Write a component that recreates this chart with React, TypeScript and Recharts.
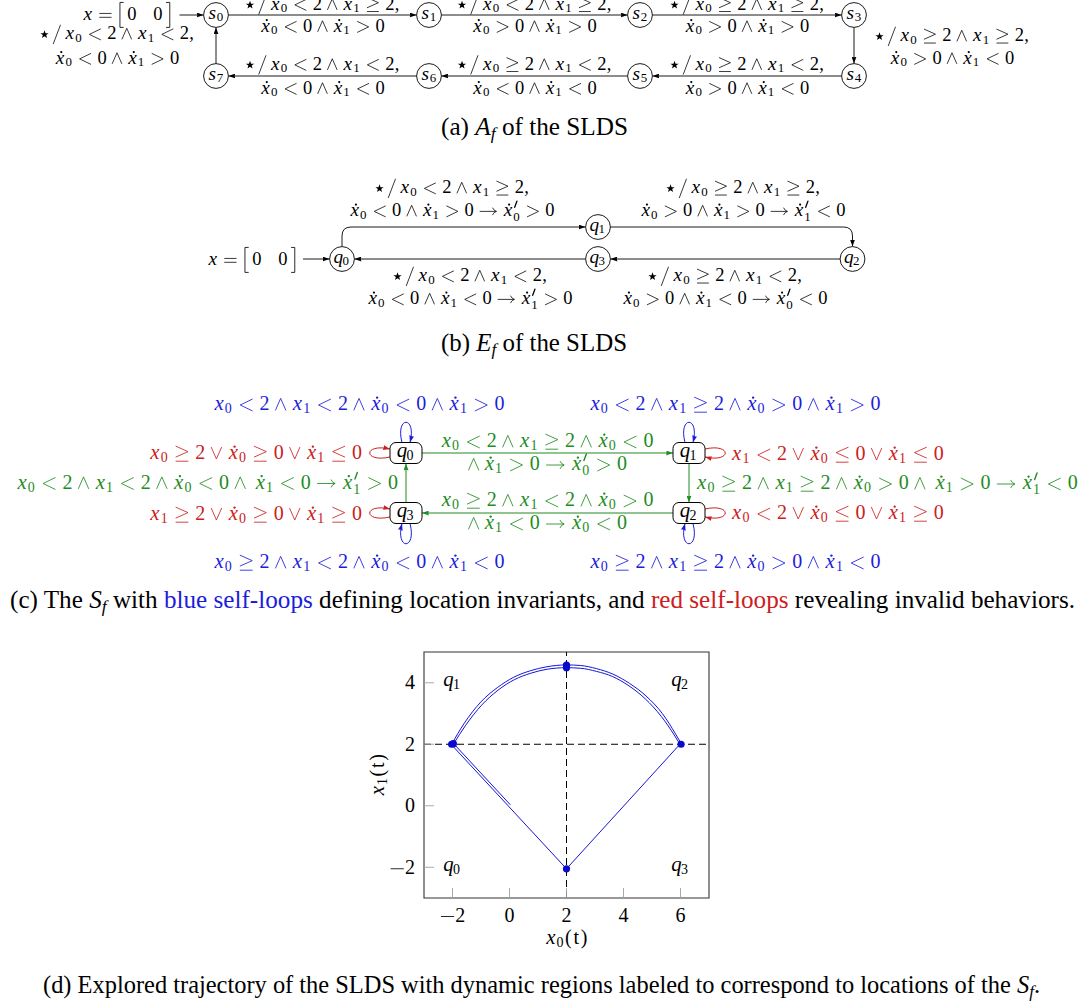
import React from 'react';
import { ComposedChart, XAxis, YAxis, Line, Scatter, ReferenceLine, ReferenceArea } from 'recharts';

// ---------------- data (plot d) ----------------
const xTicks = [-2, 0, 2, 4, 6];
const yTicks = [-2, 0, 2, 4];
const xDomain = [-3, 7];
const yDomain = [-3, 5];
const x0Threshold = 2;
const x1Threshold = 2;

const startSegment = [
  { x: 0.03, y: 0.03 },
  { x: -1.97, y: 2.03 },
];
const arcInner = [
  { x: -1.97, y: 2.0 }, { x: -1.55, y: 2.6 }, { x: -0.98, y: 3.27 }, { x: -0.4, y: 3.76 },
  { x: 0.17, y: 4.1 }, { x: 0.75, y: 4.31 }, { x: 1.32, y: 4.44 }, { x: 2.0, y: 4.49 },
  { x: 2.5, y: 4.47 }, { x: 3.05, y: 4.37 }, { x: 3.62, y: 4.2 }, { x: 4.19, y: 3.9 },
  { x: 4.76, y: 3.48 }, { x: 5.33, y: 2.9 }, { x: 5.78, y: 2.3 }, { x: 5.98, y: 2.0 },
];
const returnSegment = [
  { x: 5.98, y: 2.0 },
  { x: 2.0, y: -2.05 },
  { x: -2.03, y: 1.98 },
];
const arcOuter = [
  { x: -2.03, y: 2.0 }, { x: -1.59, y: 2.68 }, { x: -1.01, y: 3.37 }, { x: -0.43, y: 3.84 },
  { x: 0.15, y: 4.18 }, { x: 0.73, y: 4.39 }, { x: 1.31, y: 4.52 }, { x: 2.0, y: 4.58 },
  { x: 2.5, y: 4.56 }, { x: 3.05, y: 4.46 }, { x: 3.63, y: 4.28 }, { x: 4.21, y: 3.98 },
  { x: 4.79, y: 3.57 }, { x: 5.37, y: 2.99 }, { x: 5.83, y: 2.33 }, { x: 6.04, y: 2.0 },
];
const switchPoints = [
  { x: -2.03, y: 2.0 }, { x: -1.97, y: 2.02 }, { x: 2.0, y: 4.57 }, { x: 2.0, y: 4.49 },
  { x: 6.02, y: 2.0 }, { x: 2.0, y: -2.05 },
];
const regionLabels = [
  { x: -2, y: 4, label: 'q_1' },
  { x: 6, y: 4, label: 'q_2' },
  { x: -2, y: -2, label: 'q_0' },
  { x: 6, y: -2, label: 'q_3' },
];

// ---------------- math text layout ----------------
const FONT = "'Liberation Serif','Times New Roman','DejaVu Serif',serif";
const IT_W: Record<string, number> = { x: 0.572, q: 0.46, s: 0.469, f: 0.49 };
const REL_W: Record<string, number> = { '<': 0.778, '>': 0.778, '≤': 0.778, '≥': 0.778, '=': 0.778, '→': 1.0 };

function starPath(cx: number, cy: number, R: number, r: number) {
  let d = '';
  for (let k = 0; k < 10; k++) {
    const a = -Math.PI / 2 + (k * Math.PI) / 5;
    const rr = k % 2 === 0 ? R : r;
    d += (k === 0 ? 'M' : 'L') + (cx + rr * Math.cos(a)).toFixed(3) + ',' + (cy + rr * Math.sin(a)).toFixed(3);
  }
  return d + 'Z';
}
function dotPath(cx: number, cy: number, r: number) {
  return `M${cx - r},${cy} a${r},${r} 0 1,0 ${2 * r},0 a${r},${r} 0 1,0 ${-2 * r},0`;
}

function relPath(c: string, x: number) {
  switch (c) {
    case '<': return `M${x + 0.69},-0.54 L${x + 0.09},-0.25 L${x + 0.69},0.04`;
    case '>': return `M${x + 0.09},-0.54 L${x + 0.69},-0.25 L${x + 0.09},0.04`;
    case '≤': return `M${x + 0.69},-0.636 L${x + 0.09},-0.368 L${x + 0.69},-0.1 M${x + 0.09},0.11 L${x + 0.69},0.11`;
    case '≥': return `M${x + 0.09},-0.636 L${x + 0.69},-0.368 L${x + 0.09},-0.1 M${x + 0.09},0.11 L${x + 0.69},0.11`;
    case '=': return `M${x + 0.08},-0.355 L${x + 0.7},-0.355 M${x + 0.08},-0.145 L${x + 0.7},-0.145`;
    case '→': return `M${x + 0.06},-0.25 L${x + 0.92},-0.25 M${x + 0.74},-0.43 Q${x + 0.8},-0.29 ${x + 0.94},-0.25 Q${x + 0.8},-0.21 ${x + 0.74},-0.07`;
  }
  return '';
}

function layoutMath(src: string) {
  const items: any[] = [];
  let cur = 0;
  let prev: string | null = null;
  let primeAt: number | null = null;
  const place = (type: string, w: number) => {
    let t = type;
    if (t === 'bin' && (prev === null || prev === 'bin' || prev === 'rel' || prev === 'open' || prev === 'punct')) t = 'ord';
    let sp = 0;
    if (prev !== null) {
      if (t === 'rel' || prev === 'rel') sp = t === 'rel' && prev === 'rel' ? 0 : 0.278;
      else if (t === 'bin' || prev === 'bin') sp = 0.222;
      else if (prev === 'punct') sp = 0.167;
    }
    cur += sp;
    const x0 = cur;
    cur += w;
    prev = t;
    primeAt = null;
    return x0;
  };
  const chars = Array.from(src);
  for (let i = 0; i < chars.length; i++) {
    const c = chars[i];
    if (c === ' ') continue;
    if (c === '`') { cur += 0.167; continue; }
    if (c === '~') { cur += 0.9; continue; }
    if (IT_W[c] !== undefined) {
      const w = IT_W[c];
      const x0 = place('ord', w);
      items.push({ k: 't', ch: c, x: x0, w, y: 0, s: 1.04, it: true });
    } else if (c === 'ẋ') {
      const x0 = place('ord', 0.572);
      items.push({ k: 't', ch: 'x', x: x0, w: 0.572, y: 0, s: 1.04, it: true });
      items.push({ k: 'p', d: dotPath(x0 + 0.35, -0.62, 0.06), fill: true });
    } else if (/[0-9]/.test(c)) {
      const x0 = place('ord', 0.5);
      items.push({ k: 't', ch: c, x: x0, w: 0.5, y: 0, s: 1, it: false });
    } else if (c === 'T') {
      const x0 = place('ord', 0.389);
      items.push({ k: 't', ch: 't', x: x0, w: 0.389, y: 0, s: 1, it: false });
    } else if (c === '(' || c === ')') {
      const x0 = place(c === '(' ? 'open' : 'close', 0.389);
      items.push({ k: 't', ch: c, x: x0, w: 0.389, y: 0, s: 1, it: false });
    } else if (c === ',') {
      const x0 = place('punct', 0.278);
      items.push({ k: 't', ch: ',', x: x0, w: 0.278, y: 0, s: 1, it: false });
    } else if (c === '[') {
      const x0 = place('open', 0.35);
      items.push({ k: 'p', d: `M${x0 + 0.3},-0.95 L${x0 + 0.12},-0.95 L${x0 + 0.12},0.4 L${x0 + 0.3},0.4`, sw: 0.045 });
    } else if (c === ']') {
      const x0 = place('close', 0.35);
      items.push({ k: 'p', d: `M${x0 + 0.05},-0.95 L${x0 + 0.23},-0.95 L${x0 + 0.23},0.4 L${x0 + 0.05},0.4`, sw: 0.045 });
    } else if (REL_W[c] !== undefined) {
      const x0 = place('rel', REL_W[c]);
      items.push({ k: 'p', d: relPath(c, x0) });
    } else if (c === '∧' || c === '∨') {
      const x0 = place('bin', 0.667);
      items.push({
        k: 'p',
        d: c === '∧'
          ? `M${x0 + 0.08},0 L${x0 + 0.333},-0.58 L${x0 + 0.587},0`
          : `M${x0 + 0.08},-0.58 L${x0 + 0.333},0 L${x0 + 0.587},-0.58`,
      });
    } else if (c === '-') {
      const x0 = place('bin', 0.778);
      items.push({ k: 'p', d: `M${x0 + 0.08},-0.25 L${x0 + 0.7},-0.25` });
    } else if (c === '⋆') {
      const x0 = place('bin', 0.5);
      items.push({ k: 'p', d: starPath(x0 + 0.25, -0.24, 0.235, 0.095), fill: true });
    } else if (c === '/') {
      const x0 = place('ord', 0.5);
      items.push({ k: 'p', d: `M${x0 + 0.44},-0.75 L${x0 + 0.06},0.25` });
    } else if (c === "'") {
      const px = cur;
      items.push({ k: 'p', d: `M${px + 0.2},-0.8 L${px + 0.08},-0.47`, sw: 0.07 });
      primeAt = px;
      cur = px + 0.24;
    } else if (c === '_') {
      const c2 = chars[++i];
      const sx = primeAt !== null ? primeAt : cur;
      const dy = primeAt !== null ? 0.25 : 0.15;
      const w = 0.35;
      items.push({ k: 't', ch: c2, x: sx, w, y: dy, s: 0.7, it: /[a-z]/.test(c2) });
      cur = Math.max(cur, sx + w + 0.05);
      primeAt = null;
    }
  }
  return { items, width: cur };
}

function MathText({ x, y, src, size, anchor = 'middle', color = '#000', rotate }: any) {
  const L = layoutMath(src);
  const ox = anchor === 'middle' ? x - (L.width * size) / 2 : anchor === 'end' ? x - L.width * size : x;
  return (
    <g transform={rotate ? `rotate(${rotate} ${x} ${y})` : undefined}>
      {L.items.map((it: any, i: number) =>
        it.k === 't' ? (
          <text
            key={i}
            x={ox + (it.x + it.w / 2) * size}
            y={y + it.y * size}
            fontSize={it.s * size}
            fontStyle={it.it ? 'italic' : 'normal'}
            textAnchor="middle"
            fill={color}
            fontFamily={FONT}
          >
            {it.ch}
          </text>
        ) : (
          <path
            key={i}
            d={it.d}
            transform={`translate(${ox},${y}) scale(${size})`}
            fill={it.fill ? color : 'none'}
            stroke={it.fill ? 'none' : color}
            strokeWidth={it.sw ?? 0.042}
            strokeLinecap="round"
            strokeLinejoin="round"
          />
        )
      )}
    </g>
  );
}

// ---------------- diagram helpers ----------------
const FA = 18.5;
const FC = 20;
const CAP = 24.5;
const GREEN = '#1e8c1e';
const RED = '#cc2020';
const BLUE = '#1c1cdc';
const TRAJ = '#1515d8';

const Marker = ({ id, color }: any) => (
  <marker id={id} viewBox="0 0 7 5" refX={7} refY={2.5} markerWidth={7} markerHeight={5} markerUnits="userSpaceOnUse" orient="auto">
    <path d="M0,0 L7,2.5 L0,5 Q1.3,2.5 0,0 Z" fill={color} />
  </marker>
);

const Circ = ({ x, y, label }: any) => (
  <g>
    <circle cx={x} cy={y} r={12.4} fill="#fff" stroke="#000" strokeWidth={0.9} />
    <MathText x={x} y={y + 3.5} src={label} size={FA} />
  </g>
);

const Box = ({ x, y, label }: any) => (
  <g>
    <rect x={x - 16} y={y - 10.5} width={32} height={21} rx={6} fill="#fff" stroke="#000" strokeWidth={1} />
    <MathText x={x} y={y + 4} src={label} size={FC} />
  </g>
);

const Arrow = ({ d, color = '#000', w = 0.9, m = 'ak' }: any) => (
  <path d={d} fill="none" stroke={color} strokeWidth={w} markerEnd={`url(#${m})`} />
);

// (a) nodes
const aTop = 15;
const aBot = 76;
const aXs = [216, 429, 640, 854];

function DiagramA() {
  const r = 12.4;
  const mids = [(aXs[0] + aXs[1]) / 2, (aXs[1] + aXs[2]) / 2, (aXs[2] + aXs[3]) / 2];
  const topLabels = [
    ['⋆`/`x_0<2∧x_1≥2,', 'ẋ_0<0∧ẋ_1>0'],
    ['⋆`/`x_0<2∧x_1≥2,', 'ẋ_0>0∧ẋ_1>0'],
    ['⋆`/`x_0≥2∧x_1≥2,', 'ẋ_0>0∧ẋ_1>0'],
  ];
  const botLabels = [
    ['⋆`/`x_0<2∧x_1<2,', 'ẋ_0<0∧ẋ_1<0'],
    ['⋆`/`x_0≥2∧x_1<2,', 'ẋ_0<0∧ẋ_1<0'],
    ['⋆`/`x_0≥2∧x_1<2,', 'ẋ_0>0∧ẋ_1<0'],
  ];
  return (
    <g>
      <MathText x={172} y={20} src="x=[`0~0`]" size={FA} anchor="end" />
      <Arrow d={`M179.5,${aTop} L${aXs[0] - r},${aTop}`} />
      {[0, 1, 2].map((k) => (
        <Arrow key={'t' + k} d={`M${aXs[k] + r},${aTop} L${aXs[k + 1] - r},${aTop}`} />
      ))}
      {[0, 1, 2].map((k) => (
        <Arrow key={'b' + k} d={`M${aXs[k + 1] - r},${aBot} L${aXs[k] + r},${aBot}`} />
      ))}
      <Arrow d={`M${aXs[3]},${aTop + r} L${aXs[3]},${aBot - r}`} />
      <Arrow d={`M${aXs[0]},${aBot - r} L${aXs[0]},${aTop + r}`} />
      {mids.map((m, k) => (
        <g key={'tl' + k}>
          <MathText x={m} y={9.5} src={topLabels[k][0]} size={FA} />
          <MathText x={m} y={31.5} src={topLabels[k][1]} size={FA} />
          <MathText x={m} y={69.5} src={botLabels[k][0]} size={FA} />
          <MathText x={m} y={93.5} src={botLabels[k][1]} size={FA} />
        </g>
      ))}
      <MathText x={952} y={41} src="⋆`/`x_0≥2∧x_1≥2," size={FA} />
      <MathText x={952} y={63.5} src="ẋ_0>0∧ẋ_1<0" size={FA} />
      <MathText x={117} y={39} src="⋆`/`x_0<2∧x_1<2," size={FA} />
      <MathText x={117} y={63.5} src="ẋ_0<0∧ẋ_1>0" size={FA} />
      {aXs.map((x, k) => (
        <Circ key={'s' + k} x={x} y={aTop} label={`s_${k}`} />
      ))}
      {aXs.map((x, k) => (
        <Circ key={'sb' + k} x={x} y={aBot} label={`s_${7 - k}`} />
      ))}
    </g>
  );
}

function DiagramB() {
  const r = 12.5;
  const q0 = [342, 259], q1 = [598, 227], q3 = [598, 259], q2 = [852.5, 259];
  return (
    <g>
      <MathText x={297} y={265} src="x=[`0~0`]" size={FA} anchor="end" />
      <Arrow d={`M303,${q0[1]} L${q0[0] - r},${q0[1]}`} />
      <Arrow d={`M${q0[0]},${q0[1] - r} L${q0[0]},${q1[1] + 9} Q${q0[0]},${q1[1]} ${q0[0] + 9},${q1[1]} L${q1[0] - r},${q1[1]}`} />
      <Arrow d={`M${q1[0] + r},${q1[1]} L${q2[0] - 9},${q1[1]} Q${q2[0]},${q1[1]} ${q2[0]},${q1[1] + 9} L${q2[0]},${q2[1] - r}`} />
      <Arrow d={`M${q2[0] - r},${q2[1]} L${q3[0] + r},${q3[1]}`} />
      <Arrow d={`M${q3[0] - r},${q3[1]} L${q0[0] + r},${q0[1]}`} />
      <MathText x={452} y={193} src="⋆`/`x_0<2∧x_1≥2," size={FA} />
      <MathText x={452} y={216} src="ẋ_0<0∧ẋ_1>0→ẋ'_0>0" size={FA} />
      <MathText x={743} y={193} src="⋆`/`x_0≥2∧x_1≥2," size={FA} />
      <MathText x={743} y={216} src="ẋ_0>0∧ẋ_1>0→ẋ'_1<0" size={FA} />
      <MathText x={470} y={281} src="⋆`/`x_0<2∧x_1<2," size={FA} />
      <MathText x={470} y={304} src="ẋ_0<0∧ẋ_1<0→ẋ'_1>0" size={FA} />
      <MathText x={725} y={281} src="⋆`/`x_0≥2∧x_1<2," size={FA} />
      <MathText x={725} y={304} src="ẋ_0>0∧ẋ_1<0→ẋ'_0<0" size={FA} />
      <Circ x={q0[0]} y={q0[1]} label="q_0" />
      <Circ x={q1[0]} y={q1[1]} label="q_1" />
      <Circ x={q3[0]} y={q3[1]} label="q_3" />
      <Circ x={q2[0]} y={q2[1]} label="q_2" />
    </g>
  );
}

function DiagramC() {
  const L = 406, R = 689, T = 453, B = 513;
  const hw = 16, hh = 10.5;
  const topLoop = (cx: number) => `M${cx - 4},${T - hh} C${cx - 11},${T - hh - 27} ${cx + 11},${T - hh - 27} ${cx + 4},${T - hh}`;
  const botLoop = (cx: number) => `M${cx + 4},${B + hh} C${cx + 11},${B + hh + 27} ${cx - 11},${B + hh + 27} ${cx - 4},${B + hh}`;
  const leftLoop = (cy: number) => `M${L - hw},${cy + 4} C${L - hw - 27},${cy + 10} ${L - hw - 27},${cy - 10} ${L - hw},${cy - 4}`;
  const rightLoop = (cy: number) => `M${R + hw},${cy - 4} C${R + hw + 27},${cy - 10} ${R + hw + 27},${cy + 10} ${R + hw},${cy + 4}`;
  return (
    <g>
      <Arrow d={`M${L + hw},${T} L${R - hw},${T}`} color={GREEN} w={1} m="ag" />
      <Arrow d={`M${R},${T + hh} L${R},${B - hh}`} color={GREEN} w={1} m="ag" />
      <Arrow d={`M${R - hw},${B} L${L + hw},${B}`} color={GREEN} w={1} m="ag" />
      <Arrow d={`M${L},${B - hh} L${L},${T + hh}`} color={GREEN} w={1} m="ag" />
      <Arrow d={topLoop(L)} color={BLUE} w={1} m="ab" />
      <Arrow d={topLoop(R)} color={BLUE} w={1} m="ab" />
      <Arrow d={botLoop(L)} color={BLUE} w={1} m="ab" />
      <Arrow d={botLoop(R)} color={BLUE} w={1} m="ab" />
      <Arrow d={leftLoop(T)} color={RED} w={1} m="ar" />
      <Arrow d={leftLoop(B)} color={RED} w={1} m="ar" />
      <Arrow d={rightLoop(T)} color={RED} w={1} m="ar" />
      <Arrow d={rightLoop(B)} color={RED} w={1} m="ar" />

      <MathText x={359} y={410} src="x_0<2∧x_1<2∧ẋ_0<0∧ẋ_1>0" size={FC} color={BLUE} />
      <MathText x={735} y={410} src="x_0<2∧x_1≥2∧ẋ_0>0∧ẋ_1>0" size={FC} color={BLUE} />
      <MathText x={359} y={568} src="x_0≥2∧x_1<2∧ẋ_0<0∧ẋ_1<0" size={FC} color={BLUE} />
      <MathText x={735} y={568} src="x_0≥2∧x_1≥2∧ẋ_0>0∧ẋ_1<0" size={FC} color={BLUE} />

      <MathText x={362} y={459} src="x_0≥2∨ẋ_0≥0∨ẋ_1≤0" size={FC} color={RED} anchor="end" />
      <MathText x={362} y={520} src="x_1≥2∨ẋ_0≥0∨ẋ_1≥0" size={FC} color={RED} anchor="end" />
      <MathText x={731} y={460} src="x_1<2∨ẋ_0≤0∨ẋ_1≤0" size={FC} color={RED} anchor="start" />
      <MathText x={731} y={519} src="x_0<2∨ẋ_0≤0∨ẋ_1≥0" size={FC} color={RED} anchor="start" />

      <MathText x={547} y={447} src="x_0<2∧x_1≥2∧ẋ_0<0" size={FC} color={GREEN} />
      <MathText x={547} y={470} src="∧`ẋ_1>0→ẋ'_0>0" size={FC} color={GREEN} />
      <MathText x={547} y={506} src="x_0≥2∧x_1<2∧ẋ_0>0" size={FC} color={GREEN} />
      <MathText x={547} y={529} src="∧`ẋ_1<0→ẋ_0<0" size={FC} color={GREEN} />
      <MathText x={398} y={488.5} src="x_0<2∧x_1<2∧ẋ_0<0∧`ẋ_1<0→ẋ'_1>0" size={FC} color={GREEN} anchor="end" />
      <MathText x={696} y={489} src="x_0≥2∧x_1≥2∧ẋ_0>0∧`ẋ_1>0→ẋ'_1<0" size={FC} color={GREEN} anchor="start" />

      <Box x={L} y={T} label="q_0" />
      <Box x={R} y={T} label="q_1" />
      <Box x={L} y={B} label="q_3" />
      <Box x={R} y={B} label="q_2" />
    </g>
  );
}

function Captions() {
  const sub = { fontStyle: 'italic' as const, fontSize: CAP * 0.7 };
  const fit = { lengthAdjust: 'spacingAndGlyphs' as const };
  return (
    <g fontFamily={FONT} fontSize={CAP} fill="#000">
      <text x={441} y={135} textLength={187} {...fit}>
        (a) <tspan fontStyle="italic">A</tspan>
        <tspan {...sub} dy={4}>f</tspan>
        <tspan dy={-4}> of the SLDS</tspan>
      </text>
      <text x={441} y={351} textLength={186} {...fit}>
        (b) <tspan fontStyle="italic">E</tspan>
        <tspan {...sub} dy={4}>f</tspan>
        <tspan dy={-4}> of the SLDS</tspan>
      </text>
      <text x={10} y={608} textLength={1065} {...fit}>
        (c) The <tspan fontStyle="italic">S</tspan>
        <tspan {...sub} dy={4}>f</tspan>
        <tspan dy={-4}> with </tspan>
        <tspan fill={BLUE}>blue self-loops</tspan>
        <tspan> defining location invariants, and </tspan>
        <tspan fill={RED}>red self-loops</tspan>
        <tspan> revealing invalid behaviors.</tspan>
      </text>
      <text x={43} y={993} textLength={997} {...fit}>
        (d) Explored trajectory of the SLDS with dynamic regions labeled to correspond to locations of the{' '}
        <tspan fontStyle="italic">S</tspan>
        <tspan {...sub} dy={4}>f</tspan>
        <tspan dy={-4}>.</tspan>
      </text>
    </g>
  );
}

// ---------------- plot (d) ----------------
const PLOT_TOP = 12;
const PLOT_BOTTOM = 258;
const PLOT_LEFT = 64;

const fmt = (v: number) => (v < 0 ? '-' + Math.abs(v) : String(v));

const XTick = (p: any) => (
  <g>
    <line x1={p.x} x2={p.x} y1={PLOT_BOTTOM} y2={PLOT_BOTTOM - 10} stroke="#a0a0a0" strokeWidth={0.9} />
    <MathText x={p.x} y={PLOT_BOTTOM + 23.5} src={fmt(p.payload.value)} size={FC} />
  </g>
);
const YTick = (p: any) => (
  <g>
    <line x1={PLOT_LEFT} x2={PLOT_LEFT + 10} y1={p.y} y2={p.y} stroke="#a0a0a0" strokeWidth={0.9} />
    <MathText x={PLOT_LEFT - 9} y={p.y + 6.5} src={fmt(p.payload.value)} size={FC} anchor="end" />
  </g>
);

function Plot() {
  return (
    <ComposedChart width={370} height={320} margin={{ top: PLOT_TOP, right: 21, bottom: 0, left: 0 }}>
      <XAxis
        type="number"
        dataKey="x"
        domain={xDomain}
        ticks={xTicks}
        interval={0}
        tickLine={false}
        axisLine={false}
        height={62}
        tick={(p: any) => <XTick {...p} />}
        label={(p: any) => {
          const vb = p.viewBox || {};
          return <MathText x={(vb.x ?? 64) + (vb.width ?? 285) / 2} y={(vb.y ?? 258) + 46} src="x_0(T)" size={FC} />;
        }}
        allowDataOverflow
      />
      <YAxis
        type="number"
        dataKey="y"
        domain={yDomain}
        ticks={yTicks}
        interval={0}
        tickLine={false}
        axisLine={false}
        width={64}
        tick={(p: any) => <YTick {...p} />}
        label={(p: any) => {
          const vb = p.viewBox || {};
          const cy = (vb.y ?? 12) + (vb.height ?? 246) / 2;
          return <MathText x={24} y={cy} src="x_1(T)" size={FC} rotate={-90} />;
        }}
        allowDataOverflow
      />
      <ReferenceLine x={x0Threshold} stroke="#000" strokeWidth={1} strokeDasharray="7 4" />
      <ReferenceLine y={x1Threshold} stroke="#000" strokeWidth={1} strokeDasharray="7 4" />
      <Line data={startSegment} dataKey="y" type="linear" stroke={TRAJ} strokeWidth={1} dot={false} activeDot={false} isAnimationActive={false} />
      <Line data={arcInner} dataKey="y" type="monotoneX" stroke={TRAJ} strokeWidth={1} dot={false} activeDot={false} isAnimationActive={false} />
      <Line data={returnSegment} dataKey="y" type="linear" stroke={TRAJ} strokeWidth={1} dot={false} activeDot={false} isAnimationActive={false} />
      <Line data={arcOuter} dataKey="y" type="monotoneX" stroke={TRAJ} strokeWidth={1} dot={false} activeDot={false} isAnimationActive={false} />
      <Scatter
        data={switchPoints}
        dataKey="y"
        isAnimationActive={false}
        shape={(p: any) => <circle cx={p.cx} cy={p.cy} r={3.6} fill="#0a0acc" />}
      />
      <Scatter
        data={regionLabels}
        dataKey="y"
        isAnimationActive={false}
        shape={(p: any) => <MathText x={p.cx} y={p.cy + 3.5} src={p.payload.label} size={FC} />}
      />
      <ReferenceArea x1={xDomain[0]} x2={xDomain[1]} y1={yDomain[0]} y2={yDomain[1]} fill="none" fillOpacity={0} stroke="#333" strokeWidth={1.1} ifOverflow="visible" />
    </ComposedChart>
  );
}

export default function App() {
  return (
    <div style={{ position: 'absolute', left: 0, top: 0, width: 1088, height: 1002, background: '#fff', overflow: 'hidden' }}>
      <svg width={1088} height={1002} style={{ position: 'absolute', left: 0, top: 0 }} fontFamily={FONT}>
        <defs>
          <Marker id="ak" color="#000" />
          <Marker id="ag" color={GREEN} />
          <Marker id="ab" color={BLUE} />
          <Marker id="ar" color={RED} />
        </defs>
        <DiagramA />
        <DiagramB />
        <DiagramC />
        <Captions />
      </svg>
      <div style={{ position: 'absolute', left: 360, top: 640, width: 370, height: 320 }}>
        <Plot />
      </div>
    </div>
  );
}
